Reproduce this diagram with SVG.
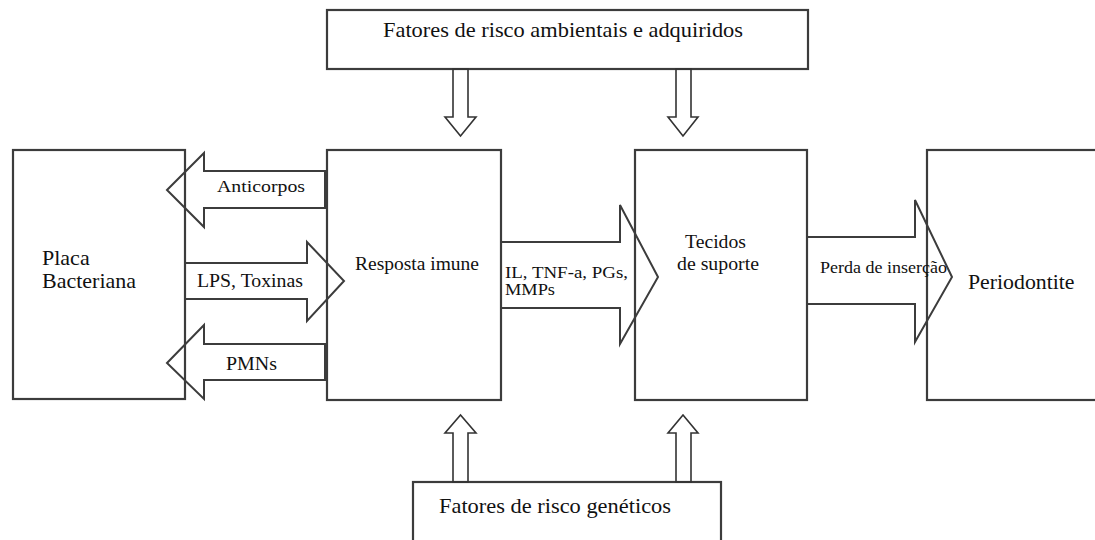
<svg xmlns="http://www.w3.org/2000/svg" width="1095" height="540" viewBox="0 0 1095 540">
<style>
.box{fill:#fff;stroke:#3c3c3c;stroke-width:2.2}
.arr{fill:none;stroke:#3c3c3c;stroke-width:2}
.sarr{fill:none;stroke:#333;stroke-width:1.6}
text{font-family:"Liberation Serif","Times New Roman",serif;fill:#111}
</style>
<rect width="1095" height="540" fill="#fff"/>
<g id="node-ambientais"><rect class="box" x="327" y="10" width="481" height="59"/><text x="383" y="37" font-size="21" textLength="360" lengthAdjust="spacingAndGlyphs">Fatores de risco ambientais e adquiridos</text></g>
<g id="node-placa"><rect class="box" x="13" y="150" width="172" height="249"/><text x="42" y="265" font-size="22" style="font-family:'Liberation Serif',serif">Placa</text><text x="42" y="288" font-size="22" style="font-family:'Liberation Serif',serif">Bacteriana</text></g>
<g id="node-resposta"><rect class="box" x="327" y="150" width="174" height="250"/><text x="355" y="270" font-size="18" textLength="124" lengthAdjust="spacingAndGlyphs">Resposta imune</text></g>
<g id="node-tecidos"><rect class="box" x="635" y="150" width="172" height="250"/><text x="685" y="248" font-size="18.5" textLength="61" lengthAdjust="spacingAndGlyphs">Tecidos</text><text x="677" y="270" font-size="18.5" textLength="82" lengthAdjust="spacingAndGlyphs">de suporte</text></g>
<g id="node-periodontite"><rect class="box" x="927" y="150" width="175" height="250"/><text x="968" y="289" font-size="21.8">Periodontite</text></g>
<g id="node-geneticos"><rect class="box" x="413" y="482" width="308" height="65"/><text x="439" y="513" font-size="21" textLength="232" lengthAdjust="spacingAndGlyphs">Fatores de risco genéticos</text></g>
<g id="connectors">
<polygon class="arr" points="167,190 204,153 204,171 325,171 325,208 204,208 204,227"/>
<text x="217" y="192" font-size="17.5" textLength="88" lengthAdjust="spacingAndGlyphs">Anticorpos</text>
<polygon class="arr" points="185,263 307,263 307,242 344,281 307,321 307,299 185,299"/>
<text x="197" y="287" font-size="18" textLength="106" lengthAdjust="spacingAndGlyphs">LPS, Toxinas</text>
<polygon class="arr" points="167,363 204,325 204,344 325,344 325,380 204,380 204,399"/>
<text x="226" y="370" font-size="18" textLength="51" lengthAdjust="spacingAndGlyphs">PMNs</text>
<polygon class="arr" points="501,242 620,242 620,205 658,277 620,344 620,308 501,308"/>
<text x="505" y="278" font-size="17" textLength="123" lengthAdjust="spacingAndGlyphs">IL, TNF-a, PGs,</text>
<text x="505" y="295" font-size="17" textLength="50" lengthAdjust="spacingAndGlyphs">MMPs</text>
<polygon class="arr" points="807,237 915,237 915,200 952,277 915,342 915,304 807,304"/>
<text x="820" y="273" font-size="16" textLength="127" lengthAdjust="spacingAndGlyphs">Perda de inserção</text>
<polygon class="sarr" points="453,69 468,69 468,117 476,117 460.5,136 445,117 453,117"/>
<polygon class="sarr" points="676,69 691,69 691,117 698,117 683,136 668,117 676,117"/>
<polygon class="sarr" points="453,482 468,482 468,433 476,433 460.5,415 445,433 453,433"/>
<polygon class="sarr" points="676,482 691,482 691,433 698,433 683,415 668,433 676,433"/>
</g>
</svg>
